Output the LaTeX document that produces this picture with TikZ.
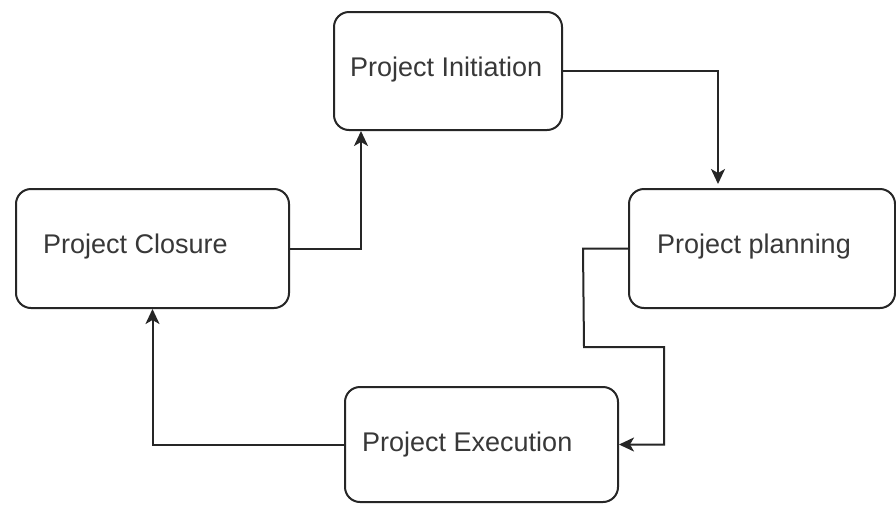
\documentclass[tikz,border=0pt]{standalone}
\usepackage{fontspec}
\setmainfont{Liberation Sans}
\usetikzlibrary{arrows.meta}
\begin{document}
\begin{tikzpicture}[x=1pt,y=-1pt,
  phase/.style={draw=black!85, line width=2pt, rounded corners=15pt, fill=white},
  caption/.style={anchor=base west, inner sep=0pt, text=black!78,
    font=\fontsize{27}{32}\selectfont},
  flow/.style={draw=black!85, line width=2pt,
    -{Stealth[length=15pt,width=14pt,inset=4pt]}}]
  \fill[white] (0,0) rectangle (896,504);
  \useasboundingbox (0,0) rectangle (896,504);

  % phase boxes
  \node[phase, minimum width=228pt, minimum height=118pt] (init) at (448,71) {};
  \node[phase, minimum width=266pt, minimum height=119pt] (plan) at (762,248.5) {};
  \node[phase, minimum width=273pt, minimum height=119pt] (close) at (152.5,248.5) {};
  \node[phase, minimum width=273pt, minimum height=115pt] (exec) at (481.5,444.5) {};

  % box captions
  \node[caption] (initT) at (350,76) {Project Initiation};
  \node[caption] (planT) at (657,253) {Project planning};
  \node[caption] (closeT) at (43,253) {Project Closure};
  \node[caption] (execT) at (362,451) {Project Execution};

  % connectors
  \draw[flow] (init.east) -| ([xshift=90pt,yshift=4pt]plan.north west);
  \draw[flow] (plan.west) -- ++(-45,0) -- (584,347) -- (664,347) |- (exec.east);
  \draw[flow] (exec.west) -| (close.south);
  \draw[flow] (close.east) -| ([xshift=28pt]init.south west);
\end{tikzpicture}
\end{document}
